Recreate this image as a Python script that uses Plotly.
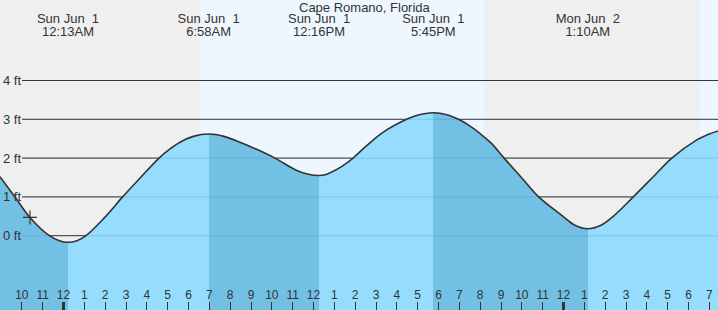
import plotly.graph_objects as go

# ---- data ----
# hours measured from midnight Sun Jun 1, heights in feet (read off the reference)
curve_h = [-3.05, -2.33, -1.61, -0.68, -0.2, 0.22, 0.65, 1.08, 1.96, 2.84, 3.7, 4.55, 5.05,
           5.59, 6.23, 6.97, 7.7, 8.47, 9.3, 10.15, 11.2, 11.7, 12.27, 12.6, 12.95, 13.4,
           13.9, 14.55, 15.35, 16.47, 16.95, 17.75, 18.4, 19.03, 19.5, 20.0, 20.54, 21.15,
           21.98, 22.81, 23.9, 24.55, 25.17, 25.8, 26.39, 27.35, 28.31, 29.2, 30.4, 30.9,
           31.42]
curve_ft = [1.52, 1.0, 0.47, 0.0, -0.13, -0.17, -0.13, 0.0, 0.46, 1.0, 1.5, 1.98, 2.21,
            2.41, 2.56, 2.62, 2.56, 2.41, 2.22, 2.0, 1.68, 1.59, 1.55, 1.58, 1.66, 1.8,
            2.0, 2.32, 2.67, 3.0, 3.1, 3.17, 3.12, 2.98, 2.83, 2.63, 2.38, 2.0,
            1.5, 1.0, 0.53, 0.27, 0.18, 0.27, 0.50, 1.0, 1.52, 2.0, 2.47, 2.6,
            2.70]

ext_h = [0.217, 6.967, 12.267, 17.75, 25.167, 31.7]
ext_day = ["Sun Jun \u00a01", "Sun Jun \u00a01", "Sun Jun \u00a01", "Sun Jun \u00a01",
           "Mon Jun \u00a02", "Mon Jun \u00a02"]
ext_time = ["12:13AM", "6:58AM", "12:16PM", "5:45PM", "1:10AM", "7:42AM"]
ext_falling_after = [False, True, False, True, False, True]

now_h = [-1.61]
now_ft = [0.47]

sunrise_h = [6.55, 30.55]
sunset_h = [20.19]

y_ticks = [0, 1, 2, 3, 4]
y_labels = ["0 ft", "1 ft", "2 ft", "3 ft", "4 ft"]

hour_ticks = list(range(-3, 32))
hour_labels = ["9", "10", "11", "12", "1", "2", "3", "4", "5", "6", "7", "8", "9", "10", "11",
               "12", "1", "2", "3", "4", "5", "6", "7", "8", "9", "10", "11",
               "12", "1", "2", "3", "4", "5", "6", "7"]
midnights = [0, 24]

title = "Cape Romano, Florida"

# ---- styling ----
X_RANGE = [-3.048, 31.416]
Y_RANGE = [-1.915, 6.075]
NIGHT = "#efefef"
DAY = "#eef7fe"
DARK = "#72c0e4"
LIGHT = "#95dcfd"
INK = "#333333"
FONT = "Liberation Sans, Arial, sans-serif"

start, stop = curve_h[0], curve_h[-1]
cs = []
col = DARK
prev = 0.0
for t, fall in zip(ext_h, ext_falling_after):
    p = min(max((t - start) / (stop - start), 0.0), 1.0)
    cs.append([prev, col])
    cs.append([p, col])
    col = DARK if fall else LIGHT
    prev = p
cs.append([prev, col])
cs.append([1.0, col])

fig = go.Figure()

fig.add_trace(go.Scatter(x=[start, stop], y=[Y_RANGE[0] - 1, Y_RANGE[0] - 1], mode="lines",
                         line=dict(width=0), showlegend=False, hoverinfo="skip"))
fig.add_trace(go.Scatter(x=curve_h, y=curve_ft, mode="lines",
                         line=dict(color=INK, width=1.6, shape="spline", smoothing=1.0),
                         fill="tonexty",
                         fillgradient=dict(type="horizontal", start=start, stop=stop, colorscale=cs),
                         showlegend=False, hoverinfo="skip"))
fig.add_trace(go.Scatter(x=now_h, y=now_ft, mode="markers",
                         marker=dict(symbol="cross-thin", size=10, line=dict(width=1.2, color=INK)),
                         showlegend=False, hoverinfo="skip"))

row1_y = Y_RANGE[1] - 19.5 / 310 * (Y_RANGE[1] - Y_RANGE[0])
row2_y = Y_RANGE[1] - 32.5 / 310 * (Y_RANGE[1] - Y_RANGE[0])
fig.add_trace(go.Scatter(x=ext_h, y=[row1_y] * len(ext_h), mode="text", text=ext_day,
                         textposition="middle center", cliponaxis=False,
                         textfont=dict(family=FONT, size=13, color=INK),
                         showlegend=False, hoverinfo="skip"))
fig.add_trace(go.Scatter(x=ext_h, y=[row2_y] * len(ext_h), mode="text", text=ext_time,
                         textposition="middle center", cliponaxis=False,
                         textfont=dict(family=FONT, size=13, color=INK),
                         showlegend=False, hoverinfo="skip"))
fig.add_trace(go.Scatter(x=[midnights[0]], y=[Y_RANGE[0] - 5], xaxis="x2", mode="markers",
                         marker=dict(size=1, opacity=0), showlegend=False, hoverinfo="skip"))

shapes = []
shapes.append(dict(type="rect", xref="x", yref="paper", x0=X_RANGE[0], x1=X_RANGE[1], y0=0, y1=1,
                   fillcolor=NIGHT, line=dict(width=0), layer="below"))
for sr, ss in zip(sunrise_h, sunset_h + [X_RANGE[1] + 5]):
    shapes.append(dict(type="rect", xref="x", yref="paper", x0=sr, x1=ss, y0=0, y1=1,
                       fillcolor=DAY, line=dict(width=0), layer="below"))
for v in y_ticks:
    shapes.append(dict(type="line", xref="paper", yref="y", x0=22 / 718, x1=1, y0=v, y1=v,
                       line=dict(color=INK, width=1), layer="below"))
    shapes.append(dict(type="line", xref="paper", yref="y", x0=22 / 718, x1=1, y0=v, y1=v,
                       line=dict(color="rgba(30,90,150,0.16)", width=1), layer="above"))

fig.update_layout(
    width=718, height=310,
    margin=dict(l=0, r=0, t=0, b=0, pad=0),
    paper_bgcolor="white", plot_bgcolor=NIGHT,
    font=dict(family=FONT, color=INK),
    shapes=shapes,
    showlegend=False,
    xaxis=dict(range=X_RANGE, tickvals=hour_ticks, ticktext=hour_labels,
               ticks="inside", ticklen=8, tickwidth=1, tickcolor=INK,
               ticklabelposition="inside", ticklabeloverflow="allow", automargin=False,
               tickfont=dict(size=12, color=INK, family=FONT),
               showgrid=False, zeroline=False, showline=False, fixedrange=True),
    xaxis2=dict(range=X_RANGE, overlaying="x", anchor="y", side="bottom", tickvals=midnights,
                ticks="inside", ticklen=8, tickwidth=3, tickcolor=INK, showticklabels=False,
                showgrid=False, zeroline=False, showline=False, automargin=False),
    yaxis=dict(range=Y_RANGE, tickvals=y_ticks, ticktext=y_labels, ticks="",
               ticklabelposition="inside", automargin=False,
               tickfont=dict(size=13, color=INK, family=FONT),
               showgrid=False, zeroline=False, showline=False, fixedrange=True),
    annotations=[dict(text=title, xref="paper", yref="paper", x=364.5 / 718, y=1 - 7.5 / 310,
                      xanchor="center", yanchor="middle", showarrow=False,
                      font=dict(family=FONT, size=13, color=INK))],
)

fig.write_html("out.html")
